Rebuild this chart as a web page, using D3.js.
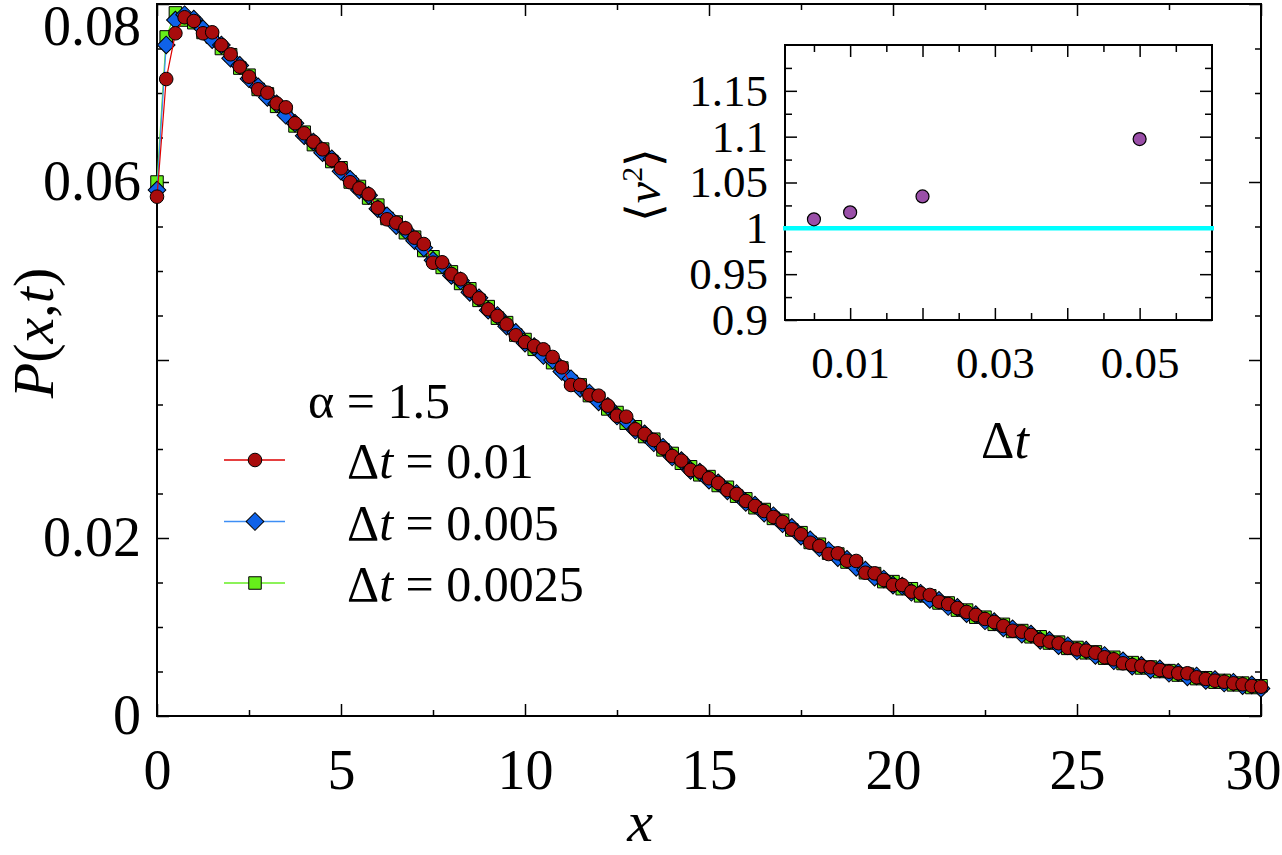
<!DOCTYPE html>
<html>
<head>
<meta charset="utf-8">
<script src="https://cdn.jsdelivr.net/npm/d3@7"></script>
<style>
body { margin: 0; background: #fff; }
</style>
</head>
<body>
<svg width="1282" height="855"></svg>
<script>
// P(x,t), x on a 0.25 grid from 0 to 30
const xStep = 0.25;
const pRed = [
  0.05835, 0.07157, 0.07671, 0.07851, 0.07809, 0.07671, 0.07682, 0.07539, 0.07435, 0.07296,
  0.07183, 0.07042, 0.07003, 0.06884, 0.06839, 0.06660, 0.06547, 0.06453, 0.06367, 0.06247,
  0.06154, 0.05997, 0.05929, 0.05862, 0.05711, 0.05581, 0.05543, 0.05480, 0.05374, 0.05303,
  0.05093, 0.05098, 0.04966, 0.04907, 0.04779, 0.04693, 0.04570, 0.04494, 0.04401, 0.04278,
  0.04202, 0.04157, 0.04120, 0.04034, 0.03918, 0.03719, 0.03719, 0.03607, 0.03599, 0.03487,
  0.03374, 0.03363, 0.03221, 0.03169, 0.03101, 0.03008, 0.02921, 0.02869, 0.02764, 0.02745,
  0.02671, 0.02618, 0.02539, 0.02494, 0.02416, 0.02360, 0.02303, 0.02236, 0.02180, 0.02098,
  0.02042, 0.01947, 0.01910, 0.01820, 0.01828, 0.01745, 0.01742, 0.01610, 0.01603, 0.01528,
  0.01472, 0.01472, 0.01397, 0.01379, 0.01360, 0.01284, 0.01258, 0.01213, 0.01169, 0.01135,
  0.01090, 0.01056, 0.01011, 0.00958, 0.00947, 0.00910, 0.00854, 0.00835, 0.00817, 0.00767,
  0.00749, 0.00734, 0.00711, 0.00660, 0.00637, 0.00592, 0.00573, 0.00562, 0.00547, 0.00517,
  0.00498, 0.00480, 0.00480, 0.00435, 0.00416, 0.00397, 0.00385, 0.00367, 0.00356, 0.00337,
  0.00329
];
const pBlue = [
  0.0591, 0.0754, 0.0782, 0.0788, 0.0783, 0.0772, 0.0760, 0.0754, 0.0739, 0.0731,
  0.0716, 0.0707, 0.0695, 0.0688, 0.0675, 0.0666, 0.0652, 0.0645, 0.0633, 0.0626,
  0.0612, 0.0603, 0.0591, 0.0585, 0.0570, 0.0562, 0.0551, 0.0546, 0.0534, 0.0526,
  0.0512, 0.0507, 0.0495, 0.0489, 0.0476, 0.0470, 0.0456, 0.0450, 0.0438, 0.0431,
  0.0419, 0.0415, 0.0405, 0.0400, 0.0387, 0.0379, 0.0368, 0.0363, 0.0353, 0.0348,
  0.0337, 0.0332, 0.0321, 0.0317, 0.0307, 0.0302, 0.0291, 0.0287, 0.0276, 0.0274,
  0.0265, 0.0262, 0.0253, 0.0250, 0.0240, 0.0237, 0.0228, 0.0225, 0.0216, 0.0212,
  0.0202, 0.0198, 0.0189, 0.0186, 0.0178, 0.0176, 0.0167, 0.0164, 0.0156, 0.0154,
  0.0147, 0.0146, 0.0139, 0.0138, 0.0131, 0.0130, 0.0123, 0.0122, 0.0115, 0.0114,
  0.0107, 0.0106, 0.0099, 0.0098, 0.0092, 0.0092, 0.0085, 0.0085, 0.0079, 0.0079,
  0.0073, 0.0074, 0.0068, 0.0068, 0.0062, 0.0062, 0.0056, 0.0057, 0.0052, 0.0053,
  0.0048, 0.0049, 0.0044, 0.0045, 0.0040, 0.0041, 0.0037, 0.0038, 0.0034, 0.0035,
  0.0031
];
const pGreen = [
  0.0600, 0.0763, 0.0790, 0.0782, 0.0779, 0.0768, 0.0763, 0.0750, 0.0743, 0.0728,
  0.0720, 0.0704, 0.0699, 0.0685, 0.0679, 0.0663, 0.0656, 0.0642, 0.0637, 0.0623,
  0.0616, 0.0600, 0.0595, 0.0582, 0.0574, 0.0559, 0.0555, 0.0543, 0.0538, 0.0523,
  0.0516, 0.0504, 0.0499, 0.0486, 0.0480, 0.0467, 0.0460, 0.0447, 0.0442, 0.0428,
  0.0423, 0.0412, 0.0409, 0.0397, 0.0391, 0.0376, 0.0372, 0.0360, 0.0357, 0.0345,
  0.0341, 0.0329, 0.0325, 0.0314, 0.0311, 0.0299, 0.0295, 0.0284, 0.0280, 0.0271,
  0.0269, 0.0259, 0.0257, 0.0247, 0.0244, 0.0234, 0.0232, 0.0222, 0.0220, 0.0209,
  0.0206, 0.0195, 0.0193, 0.0183, 0.0182, 0.0173, 0.0171, 0.0161, 0.0160, 0.0151,
  0.0151, 0.0143, 0.0143, 0.0135, 0.0135, 0.0127, 0.0127, 0.0119, 0.0119, 0.0111,
  0.0111, 0.0103, 0.0103, 0.0095, 0.0096, 0.0089, 0.0089, 0.0082, 0.0083, 0.0076,
  0.0077, 0.0071, 0.0072, 0.0065, 0.0066, 0.0059, 0.0060, 0.0054, 0.0055, 0.0050,
  0.0051, 0.0046, 0.0047, 0.0042, 0.0043, 0.0038, 0.0040, 0.0035, 0.0037, 0.0032,
  0.0034
];
const seriesDt = ['0.01', '0.005', '0.0025'];
const alphaLabel = '1.5';

const xTicks = [0, 5, 10, 15, 20, 25, 30];
const xMinorTicks = [2.5, 7.5, 12.5, 17.5, 22.5, 27.5];
const yTicks = [0, 0.02, 0.04, 0.06, 0.08];
const yTickLabels = ['0', '0.02', '', '0.06', '0.08'];
const yMinorTicks = [0.005, 0.01, 0.015, 0.025, 0.03, 0.035, 0.045, 0.05, 0.055, 0.065, 0.07, 0.075];

// inset: <v^2> against time step
const dtValues = [0.005, 0.01, 0.02, 0.05];
const v2Values = [1.0098, 1.0174, 1.0348, 1.0974];
const v2Exact = 1;
const insetXTicks = [0.01, 0.02, 0.03, 0.04, 0.05];
const insetXLabels = ['0.01', '', '0.03', '', '0.05'];
const insetXMinor = [0.005, 0.015, 0.025, 0.035, 0.045, 0.055];
const insetYTicks = [0.9, 0.95, 1, 1.05, 1.1, 1.15];
const insetYLabels = ['0.9', '0.95', '1', '1.05', '1.1', '1.15'];
const insetYMinor = [0.925, 0.975, 1.025, 1.075, 1.125, 1.175];

const FONT = "'Liberation Serif', Tinos, 'Times New Roman', Times, serif";

const svg = d3.select('svg').style('font-family', FONT);
svg.append('rect').attr('width', 1282).attr('height', 855).attr('fill', '#fff');

const x = d3.scaleLinear().domain([0, 30]).range([157, 1261]);
const y = d3.scaleLinear().domain([0, 0.08]).range([716, 4]);

const xi = d3.scaleLinear().domain([0.001, 0.06]).range([785, 1212]);
const yi = d3.scaleLinear().domain([0.9, 1.2]).range([320, 45]);

function tickGroup(axis, transform, len) {
  const g = svg.append('g')
      .attr('transform', transform)
      .call(axis.tickSizeInner(-len).tickSizeOuter(0).tickFormat(''));
  g.select('.domain').remove();
  g.selectAll('.tick line').attr('stroke', '#000').attr('stroke-width', 1.5);
  return g;
}

// box with inward ticks on all four sides
function frame(sx, sy, xt, xm, yt, ym, big, small) {
  const [x0, x1] = sx.range();
  const [y0, y1] = sy.range();
  tickGroup(d3.axisBottom(sx).tickValues(xt), `translate(0,${y0})`, big);
  tickGroup(d3.axisBottom(sx).tickValues(xm), `translate(0,${y0})`, small);
  tickGroup(d3.axisTop(sx).tickValues(xt), `translate(0,${y1})`, big);
  tickGroup(d3.axisTop(sx).tickValues(xm), `translate(0,${y1})`, small);
  tickGroup(d3.axisLeft(sy).tickValues(yt), `translate(${x0},0)`, big);
  tickGroup(d3.axisLeft(sy).tickValues(ym), `translate(${x0},0)`, small);
  tickGroup(d3.axisRight(sy).tickValues(yt), `translate(${x1},0)`, big);
  tickGroup(d3.axisRight(sy).tickValues(ym), `translate(${x1},0)`, small);
  svg.append('rect')
      .attr('x', x0).attr('y', y1)
      .attr('width', x1 - x0).attr('height', y0 - y1)
      .attr('fill', 'none').attr('stroke', '#000').attr('stroke-width', 2);
}

function labels(axis, transform, size) {
  const g = svg.append('g')
      .attr('transform', transform)
      .call(axis);
  g.attr('font-family', null).attr('font-size', null);
  g.select('.domain').remove();
  g.selectAll('.tick line').remove();
  g.selectAll('.tick text')
      .style('font-family', FONT)
      .attr('font-size', size)
      .attr('fill', '#000');
  return g;
}

function addText(parent) {
  return parent.append('text').style('font-family', FONT).attr('fill', '#000');
}

// main frame
frame(x, y, xTicks, xMinorTicks, yTicks, yMinorTicks, 12, 6);

const xl = labels(d3.axisBottom(x).tickValues(xTicks).tickSize(0).tickPadding(33).tickFormat(d3.format('d')),
  `translate(0,716)`, 56);
xl.selectAll('.tick text').filter(d => d === 30).attr('x', -8);
const yl = labels(d3.axisLeft(y).tickValues(yTicks).tickSize(0).tickPadding(16)
    .tickFormat((d, i) => yTickLabels[i]), `translate(157,0)`, 56);
yl.selectAll('.tick text').filter(d => d === 0.08).attr('y', 23);

// axis titles
const yTitle = addText(svg)
    .attr('transform', 'translate(53,333) rotate(-90)')
    .attr('text-anchor', 'middle')
    .attr('font-size', 58);
yTitle.append('tspan').attr('font-style', 'italic').text('P');
yTitle.append('tspan').text('(');
yTitle.append('tspan').attr('font-style', 'italic').text('x');
yTitle.append('tspan').text(',');
yTitle.append('tspan').attr('font-style', 'italic').text('t');
yTitle.append('tspan').text(')');

addText(svg)
    .attr('x', 640).attr('y', 841)
    .attr('text-anchor', 'middle')
    .attr('font-size', 58)
    .attr('font-style', 'italic')
    .text('x');

// series, drawn green first so the red circles sit on top
const series = [
  { values: pGreen, line: '#66ee22', fill: '#66f01a', shape: 'square', dt: seriesDt[2] },
  { values: pBlue, line: '#3d8ef5', fill: '#0f62e8', shape: 'diamond', dt: seriesDt[1] },
  { values: pRed, line: '#dd0000', fill: '#a80c0c', shape: 'circle', dt: seriesDt[0] }
];

const symbolPath = {
  circle: d3.symbol().type(d3.symbolCircle).size(Math.PI * 6.8 * 6.8)(),
  square: d3.symbol().type(d3.symbolSquare).size(12.5 * 12.5)(),
  diamond: d3.symbol().type(d3.symbolSquare).size(12.5 * 12.5)()
};

function marker(g, s, px, py) {
  g.append('path')
      .attr('d', symbolPath[s.shape])
      .attr('transform', `translate(${px},${py})` + (s.shape === 'diamond' ? ' rotate(45)' : ''))
      .attr('fill', s.fill)
      .attr('stroke', '#000')
      .attr('stroke-width', 1);
}

const line = d3.line()
    .x((d, i) => x(i * xStep))
    .y(d => y(d));

series.forEach(s => {
  const g = svg.append('g');
  g.append('path')
      .attr('d', line(s.values))
      .attr('fill', 'none')
      .attr('stroke', s.line)
      .attr('stroke-width', 1.2);
  s.values.forEach((v, i) => marker(g, s, x(i * xStep), y(v)));
});

// legend
addText(svg)
    .attr('x', 308).attr('y', 418)
    .attr('font-size', 50)
    .text(`\u03b1 = ${alphaLabel}`);

const legendRows = [series[2], series[1], series[0]];
legendRows.forEach((s, i) => {
  const cy = 460 + i * 61.5;
  const g = svg.append('g');
  g.append('line')
      .attr('x1', 224).attr('x2', 285)
      .attr('y1', cy).attr('y2', cy)
      .attr('stroke', s.line).attr('stroke-width', 1.5);
  marker(g, s, 255, cy);
  const t = addText(svg)
      .attr('x', 347).attr('y', cy + 18)
      .attr('font-size', 50);
  t.append('tspan').text('\u0394');
  t.append('tspan').attr('font-style', 'italic').text('t');
  t.append('tspan').text(` = ${s.dt}`);
});

// inset
svg.append('rect')
    .attr('x', 785).attr('y', 45)
    .attr('width', 427).attr('height', 275)
    .attr('fill', '#fff');

frame(xi, yi, insetXTicks, insetXMinor, insetYTicks, insetYMinor, 12, 7);

labels(d3.axisBottom(xi).tickValues(insetXTicks).tickSize(0).tickPadding(26)
    .tickFormat((d, i) => insetXLabels[i]), `translate(0,320)`, 45);
labels(d3.axisLeft(yi).tickValues(insetYTicks).tickSize(0).tickPadding(17)
    .tickFormat((d, i) => insetYLabels[i]), `translate(785,0)`, 45);

svg.append('line')
    .attr('x1', xi.range()[0] - 2).attr('x2', xi.range()[1] + 2)
    .attr('y1', yi(v2Exact)).attr('y2', yi(v2Exact))
    .attr('stroke', '#00ffff').attr('stroke-width', 4.5);

svg.append('g')
  .selectAll('circle')
  .data(dtValues)
  .join('circle')
    .attr('cx', d => xi(d))
    .attr('cy', (d, i) => yi(v2Values[i]))
    .attr('r', 6.5)
    .attr('fill', '#9a4fa8')
    .attr('stroke', '#000')
    .attr('stroke-width', 1.2);

const iy = addText(svg)
    .attr('transform', 'translate(660,185) rotate(-90)')
    .attr('text-anchor', 'middle')
    .attr('font-size', 48);
iy.append('tspan').text('\u27e8');
iy.append('tspan').attr('font-style', 'italic').text('v');
iy.append('tspan').attr('font-size', 30).attr('dy', -18).text('2');
iy.append('tspan').attr('dy', 18).text('\u27e9');

const ix = addText(svg)
    .attr('x', 1005).attr('y', 458)
    .attr('text-anchor', 'middle')
    .attr('font-size', 52);
ix.append('tspan').text('\u0394');
ix.append('tspan').attr('font-style', 'italic').text('t');
</script>
</body>
</html>
